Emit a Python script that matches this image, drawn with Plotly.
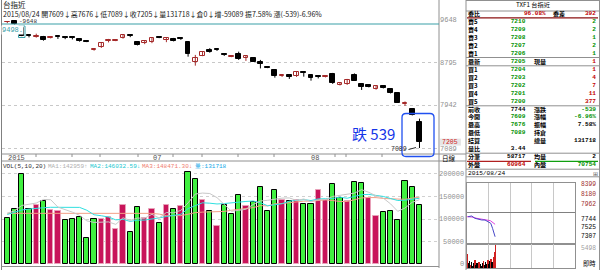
import plotly.graph_objects as go

W, H = 600, 270
FONT = "Noto Sans CJK TC"
MONO = "Liberation Mono"

def fx(x): return x / W
def fy(y): return 1 - y / H

# ---------------- data ----------------
idx = list(range(58))
opens = [9600, 9634, 9498, 9335, 9310, 9310, 9290, 9330, 9300, 9295,
         9260, 9230, 9055, 9115, 9220, 9235, 9285, 9350, 9200, 9180,
         9200, 9300, 9255, 9260, 9275, 9200, 8800, 8935, 9050, 9055,
         8955, 8910, 8960, 8895, 8880, 8800, 8715, 8650, 8525, 8545,
         8520, 8600, 8550, 8520, 8510, 8570, 8355, 8370, 8550, 8370,
         8350, 8260, 8330, 8260, 8180, 7975, 7860, 7609]
highs = [9625, 9648, 9510, 9350, 9375, 9330, 9320, 9335, 9320, 9315,
         9270, 9240, 9085, 9200, 9270, 9260, 9360, 9355, 9210, 9235,
         9300, 9310, 9300, 9290, 9290, 9210, 8950, 9015, 9085, 9075,
         8970, 8930, 9015, 8940, 8885, 8850, 8725, 8660, 8550, 8560,
         8610, 8610, 8555, 8540, 8545, 8590, 8395, 8470, 8580, 8380,
         8365, 8335, 8335, 8270, 8190, 8020, 7870, 7676]
lows = [9585, 9560, 9325, 9300, 9295, 9235, 9280, 9270, 9265, 9260,
        9215, 9205, 9035, 9090, 9200, 9225, 9275, 9305, 9140, 9165,
        9185, 9285, 9205, 9220, 9250, 8915, 8735, 8925, 8995, 9030,
        8930, 8905, 8850, 8830, 8810, 8680, 8685, 8495, 8510, 8470,
        8510, 8515, 8435, 8480, 8500, 8370, 8340, 8350, 8430, 8250,
        8300, 8255, 8280, 8180, 7990, 7930, 7740, 7089]
closes = [9605, 9568, 9338, 9325, 9335, 9245, 9300, 9310, 9290, 9285,
          9225, 9215, 9065, 9180, 9245, 9245, 9345, 9330, 9150, 9225,
          9290, 9290, 9295, 9235, 9265, 8960, 8895, 9000, 9005, 9045,
          8945, 8920, 8860, 8935, 8815, 8770, 8695, 8535, 8540, 8500,
          8600, 8580, 8480, 8505, 8525, 8380, 8380, 8450, 8435, 8300,
          8315, 8330, 8285, 8185, 7995, 7985, 7744, 7205]
volumes = [101500, 122200, 200000, 122200, 131800, 140700, 120000, 117100, 98400, 100000,
           105100, 58400, 100000, 100000, 103800, 77800, 131800, 71100, 126000, 101500,
           122200, 90400, 131800, 122200, 129500, 205100, 188900, 142200, 117100, 84400,
           131100, 110400, 153300, 128200, 138400, 170400, 117100, 163800, 142200, 140700,
           142200, 133300, 133300, 164400, 142200, 177100, 146000, 140000, 182200, 180600,
           147300, 106700, 114900, 118400, 97800, 184400, 170400, 131718]
vol_up = "GGGGRGRRGGGGGRRRRGGRRGRGRGGRGRGGGRGGGGRGRGGRRGGRGGRRGGGGGG"
ma1 = [113000, 118000, 130000, 132000, 135500, 143400, 142900, 126400, 121600, 115200,
       108100, 95800, 92400, 92700, 93500, 88000, 102700, 96900, 102100, 101600,
       110500, 102200, 114400, 113600, 119200, 135800, 155500, 157600, 156600, 147500,
       132700, 117000, 119300, 121500, 132300, 140100, 141500, 143600, 146400, 146800,
       141200, 144400, 138300, 142800, 143100, 150100, 152600, 153900, 157500, 165200,
       159200, 151400, 146300, 133600, 117000, 124400, 137200, 142959]
ma2 = [110000, 115000, 120000, 122000, 124000, 125000, 126000, 126000, 126000, 125400,
       125800, 119400, 109400, 107200, 104400, 98100, 99200, 94600, 97400, 97600,
       99300, 102500, 105600, 107900, 110400, 123200, 128900, 136000, 135100, 133400,
       134300, 136300, 138400, 139000, 139900, 136400, 129300, 131400, 133900, 139600,
       140700, 143000, 141000, 144600, 145000, 145600, 148500, 146100, 150100, 154100,
       154600, 152000, 150100, 145500, 141100, 141800, 144300, 146033]
ma3 = [112600, 112600, 112800, 112800, 113000, 113000, 113000, 112900, 112700, 112500,
       112300, 112000, 111800, 111600, 111500, 111400, 111400, 111400, 111500, 111500,
       112500, 110900, 107500, 107500, 107400, 110600, 114100, 115300, 116200, 115500,
       116800, 119400, 122000, 123400, 125200, 129800, 129100, 133700, 134500, 136500,
       137500, 139600, 139700, 141800, 142400, 141000, 138900, 138800, 142000, 146800,
       147700, 147500, 145600, 145100, 143000, 143700, 146400, 148471]

intra_min = [3, 13, 22, 31, 41, 50, 59, 66, 71, 75, 78]
intra_price = [7657, 7672, 7622, 7600, 7585, 7585, 7548, 7513, 7403, 7294, 7220]
intra_avg_min = [0, 14, 27, 46, 65, 78]
intra_avg = [7657, 7650, 7622, 7600, 7570, 7491]
intra_vmin = list(range(1, 80, 3))
intra_vol = [5400, 1800, 2600, 1200, 2200, 900, 1700, 2900, 1300, 2000, 1100, 2400, 1500, 800,
             1900, 2700, 1200, 2300, 1600, 3100, 1400, 2600, 3400, 2200, 4100, 6000, 8600]
intra_vcol = "RKKRKKKRKKKRKKKRKKKRKKRKRRR"

# quote panel
labels_l = ["賣5", "賣4", "賣3", "賣2", "賣1", "最新", "買1", "買2", "買3", "買4", "買5",
            "前收", "今開", "最高", "最低", "結算", "量比", "分筆", "外盤"]
values_l = ["7210", "7209", "7208", "7207", "7206", "7205", "7204", "7203", "7202", "7201", "7200",
            "7744", "7609", "7676", "7089", "", "3.44", "58717", "60964"]
labels_r = ["", "", "", "", "", "現量", "", "", "", "", "", "漲跌", "漲幅", "振幅", "持倉", "總量", "",
            "均量", "內盤"]
values_r = ["2", "2", "1", "2", "1", "1", "1", "4", "7", "11", "377", "-539", "-6.96%", "7.58%", "",
            "131718", "", "2", "70754"]

# ---------------- figure ----------------
fig = go.Figure()

UP_C = "#A52A2A"
for up, col in ((True, UP_C), (False, "#000000")):
    wx, wy = [], []
    for i in idx:
        if (closes[i] >= opens[i]) == up:
            wx += [i, i, None]
            wy += [lows[i], highs[i], None]
    fig.add_trace(go.Scatter(x=wx, y=wy, mode="lines", line=dict(color=col, width=1),
                             xaxis="x", yaxis="y", showlegend=False, hoverinfo="skip"))
body_base = [min(o, c) for o, c in zip(opens, closes)]
body_h = [max(abs(c - o), 14) for o, c in zip(opens, closes)]
is_up = [c >= o for o, c in zip(opens, closes)]
fig.add_trace(go.Bar(x=idx, y=body_h, base=body_base, width=0.66, xaxis="x", yaxis="y",
                     marker=dict(color=["#FFFFFF" if u else "#000000" for u in is_up],
                                 line=dict(color=[UP_C if u else "#000000" for u in is_up], width=1)),
                     showlegend=False, hoverinfo="skip"))

bar_fill = ["#40F040" if c == "G" else "#C8145A" for c in vol_up]
bar_line = ["#000000" if c == "G" else "#E8A0B8" for c in vol_up]
fig.add_trace(go.Bar(x=idx, y=volumes, width=0.72, xaxis="x2", yaxis="y2",
                     marker=dict(color=bar_fill, line=dict(color=bar_line, width=1)),
                     showlegend=False, hoverinfo="skip"))
for s, col in ((ma3, "#F4A088"), (ma2, "#30E0E0"), (ma1, "#C8C8C8")):
    fig.add_trace(go.Scatter(x=idx, y=s, mode="lines", line=dict(color=col, width=1),
                             xaxis="x2", yaxis="y2", showlegend=False, hoverinfo="skip"))

fig.add_trace(go.Scatter(x=intra_avg_min, y=intra_avg, mode="lines",
                         line=dict(color="#E040E0", width=1), xaxis="x3", yaxis="y3",
                         showlegend=False, hoverinfo="skip"))
fig.add_trace(go.Scatter(x=intra_min, y=intra_price, mode="lines",
                         line=dict(color="#4848C8", width=1), xaxis="x3", yaxis="y3",
                         showlegend=False, hoverinfo="skip"))
fig.add_trace(go.Bar(x=intra_vmin, y=intra_vol, width=1.4, xaxis="x4", yaxis="y4",
                     marker=dict(color=["#D02020" if c == "R" else "#000000" for c in intra_vcol],
                                 line=dict(width=0)),
                     showlegend=False, hoverinfo="skip"))

# ---------------- axes ----------------
XR = [-0.735, 59.7]
main_x = [fx(2), fx(439)]
fig.update_layout(
    width=W, height=H, margin=dict(l=0, r=0, t=0, b=0),
    paper_bgcolor="white", plot_bgcolor="rgba(0,0,0,0)",
    font=dict(family=FONT, size=8, color="#000"),
    showlegend=False, bargap=0, barmode="overlay",
    xaxis=dict(domain=main_x, range=XR, showgrid=False, zeroline=False, showticklabels=False,
               fixedrange=True),
    yaxis=dict(domain=[fy(152), fy(18)], range=[7009, 9688], tickvals=[8795, 7942, 7089],
               showticklabels=False, gridcolor="#C8C8C8", griddash="dot", gridwidth=1,
               zeroline=False),
    xaxis2=dict(domain=main_x, range=XR, showgrid=False, zeroline=False, showticklabels=False,
                anchor="y2"),
    yaxis2=dict(domain=[fy(266), fy(170)], range=[-4444, 208868],
                tickvals=[50000, 100000, 150000, 200000], showticklabels=False,
                gridcolor="#D0D0D0", griddash="dot", zeroline=False, anchor="x2"),
    xaxis3=dict(domain=[fx(467), fx(575)], range=[0, 300], tickvals=[60, 120, 180, 240],
                showticklabels=False, gridcolor="#C8C8C8", zeroline=False, anchor="y3",
                showline=True, linecolor="#909090", mirror=True),
    yaxis3=dict(domain=[fy(244), fy(182.7)], range=[7061, 8399], tickvals=[7744],
                showticklabels=False, gridcolor="#808080", zeroline=False, anchor="x3",
                showline=True, linecolor="#909090", mirror=True),
    xaxis4=dict(domain=[fx(467), fx(575)], range=[0, 300], tickvals=[60, 120, 180, 240],
                showticklabels=False, gridcolor="#C8C8C8", zeroline=False, anchor="y4",
                showline=True, linecolor="#909090", mirror=True),
    yaxis4=dict(domain=[fy(268), fy(244)], range=[0, 9000], showticklabels=False,
                showgrid=False, zeroline=False, anchor="x4",
                showline=True, linecolor="#909090", mirror=True),
)

shapes = []
annots = []

def line(x0, y0, x1, y1, color="#909090", width=1):
    shapes.append(dict(type="line", xref="paper", yref="paper", x0=fx(x0), y0=fy(y0), x1=fx(x1),
                       y1=fy(y1), line=dict(color=color, width=width)))

def txt(x, y, s, size=8, color="#000", anchor="left", family=FONT, bg=None, align=None):
    a = dict(xref="paper", yref="paper", x=fx(x), y=fy(y), text=s, showarrow=False,
             xanchor=anchor, yanchor="middle", font=dict(family=family, size=size, color=color),
             borderpad=0)
    if bg:
        a["bgcolor"] = bg
    if align:
        a["align"] = align
    annots.append(a)

def span(s, c):
    return '<span style="color:%s"><b>%s</b></span>' % (c, s) if s else "&nbsp;"

# frames
line(1.5, 0, 1.5, 270, "#808080")
line(439, 0, 439, 268, "#909090")
line(466, 0, 466, 270, "#909090")
line(599.5, 0, 599.5, 270, "#909090")
line(1.5, 266.5, 439, 266.5, "#909090")
line(2, 24, 439, 24, "#3AA0A8", 1.2)
shapes.append(dict(type="rect", xref="paper", yref="paper", x0=fx(18.5), x1=fx(25), y0=fy(37.5),
                   y1=fy(26), line=dict(color="#3AA0A8", width=1)))
line(1.5, 154, 466, 154, "#909090")
line(1.5, 161, 466, 161, "#909090")
for tx in (36, 72, 100, 138, 173, 202, 238, 274, 335, 346, 382):
    line(tx, 154, tx, 157, "#909090")

# header (two lines in one block)
txt(2, 9.4, '<span style="font-size:7.5px">台指近</span><br>'
    '2015/08/24 開7609↓高7676↓低7089↓收7205↓量131718↓倉0↓增-59089 振7.58% 漲(-539)-6.96%',
    7, "#202020", align="left")
txt(18, 21.6, "-9648", 6, "#303030", family=MONO)
txt(0.5, 30.5, "9498.", 7, "#3AA0A8", family=MONO, bg="white")

txt(7, 158, "2015", 7, "#505050", family=MONO)
txt(152, 158, "07", 7, "#505050", family=MONO)
txt(310, 158, "08", 7, "#505050", family=MONO)

x0 = 2
for s, c in (("VOL(5,10,20)", "#303030"), ("MA1:142959↑", "#B0B0B0"),
             ("MA2:146032.59↓", "#20C8D0"), ("MA3:148471.30↓", "#F08070"),
             ("量:131718", "#10A8E8")):
    txt(x0, 166.5, s, 6, c, family=MONO)
    x0 += len(s) * 3.6 + 2

for v, yy in (("9648", 20), ("8795", 62.6), ("7942", 105.3), ("7089", 148.7)):
    txt(458, yy, v, 7, "#909090", "right", MONO)
shapes.append(dict(type="rect", xref="paper", yref="paper", x0=fx(440), x1=fx(461), y0=fy(145.6),
                   y1=fy(138.6), fillcolor="#E6E6E6", line=dict(width=0)))
txt(459, 142.1, "7205", 6.5, "#D02020", "right", MONO)
txt(441, 157.5, "日線", 6.5, "#000")
for v, yy in (("200000", 174), ("150000", 196.5), ("100000", 219), ("50000", 241.5), ("0", 264)):
    txt(465, yy, v, 7, "#909090", "right", MONO)

shapes.append(dict(type="path", xref="paper", yref="paper",
                   path="M {a},{b} L {c},{b} Q {d},{b} {d},{e} L {d},{f} Q {d},{g} {c},{g} L {a},{g} Q {h},{g} {h},{f} L {h},{e} Q {h},{b} {a},{b} Z".format(
                       a=fx(406), b=fy(113.5), c=fx(430), d=fx(434), e=fy(117.5),
                       f=fy(152.5), g=fy(156.5), h=fx(402)),
                   line=dict(color="#2050F0", width=1.3)))
txt(373, 133, "跌 539", 15, "#1535E8", "center")
txt(408, 149.5, "7089", 6.5, "#303030", "right", MONO)
line(408.5, 149.5, 416, 147.5, "#303030", 1)

# ---------------- right info panel ----------------
line(466, 0.5, 599.5, 0.5, "#909090")
txt(533, 5, "TXF1 台指近", 6.2, "#000", "center")
line(466, 11, 599.5, 11, "#909090")
txt(467, 13.9, "<b>委比</b>", 6)
txt(547, 13.9, "<b>96.08%</b>", 6, "#C00000", "right", MONO)
txt(552, 13.9, "<b>委差</b>", 6)
txt(597, 13.9, "<b>392</b>", 6, "#C00000", "right", MONO)
line(467, 17.8, 598, 17.8, "#8B1010", 1.3)

G, R, K = "#009000", "#C00000", "#000000"
colors_l = [G] * 11 + [K, G, G, G, K, K, K, R]
colors_r = [G] * 5 + [R] * 6 + [G, G, K, K, K, K, K, G]
ROWC = 21.7 + 7.96 * 9   # vertical centre of the 19-row block
FS = 6.12                # 1.3 * FS == row pitch
txt(467, ROWC, "<br>".join("<b>%s</b>" % l for l in labels_l), FS, K, align="left")
txt(527, ROWC, "<br>".join(span(v, c) for v, c in zip(values_l, colors_l)), FS, K, "right", MONO, align="right")
txt(533, ROWC, "<br>".join("<b>%s</b>" % l if l else "&nbsp;" for l in labels_r), FS, K, align="left")
txt(597, ROWC, "<br>".join(span(v, c) for v, c in zip(values_r, colors_r)), FS, K, "right", MONO, align="right")

for yy in (57.5, 65.8, 105.8, 153.2, 169.2, 176.8):
    line(466, yy, 599.5, yy, "#909090")
line(467, 161.3, 531, 161.3, "#B02020", 1.2)
line(535, 161.3, 598, 161.3, "#10A010", 1.2)
txt(467, 173, "2015/08/24", 6.2, "#000", family=MONO)
txt(595, 173, "⊞", 6.2, "#606060", "center")

for v, yy, c in (("8399", 184, "#A03030"), ("8180", 194, "#A03030"), ("7962", 204.3, "#A03030"),
                 ("7744", 219.3, "#000000"), ("7525", 227.3, "#000000"), ("7307", 236.7, "#000000"),
                 ("5498", 248.3, "#A0A0A0")):
    txt(597, yy, v, 6.3, c, "right", MONO)
txt(597, 263.5, "即時", 6.3, "#000", "right")

fig.update_layout(shapes=shapes, annotations=annots)
fig.write_html("out.html")
